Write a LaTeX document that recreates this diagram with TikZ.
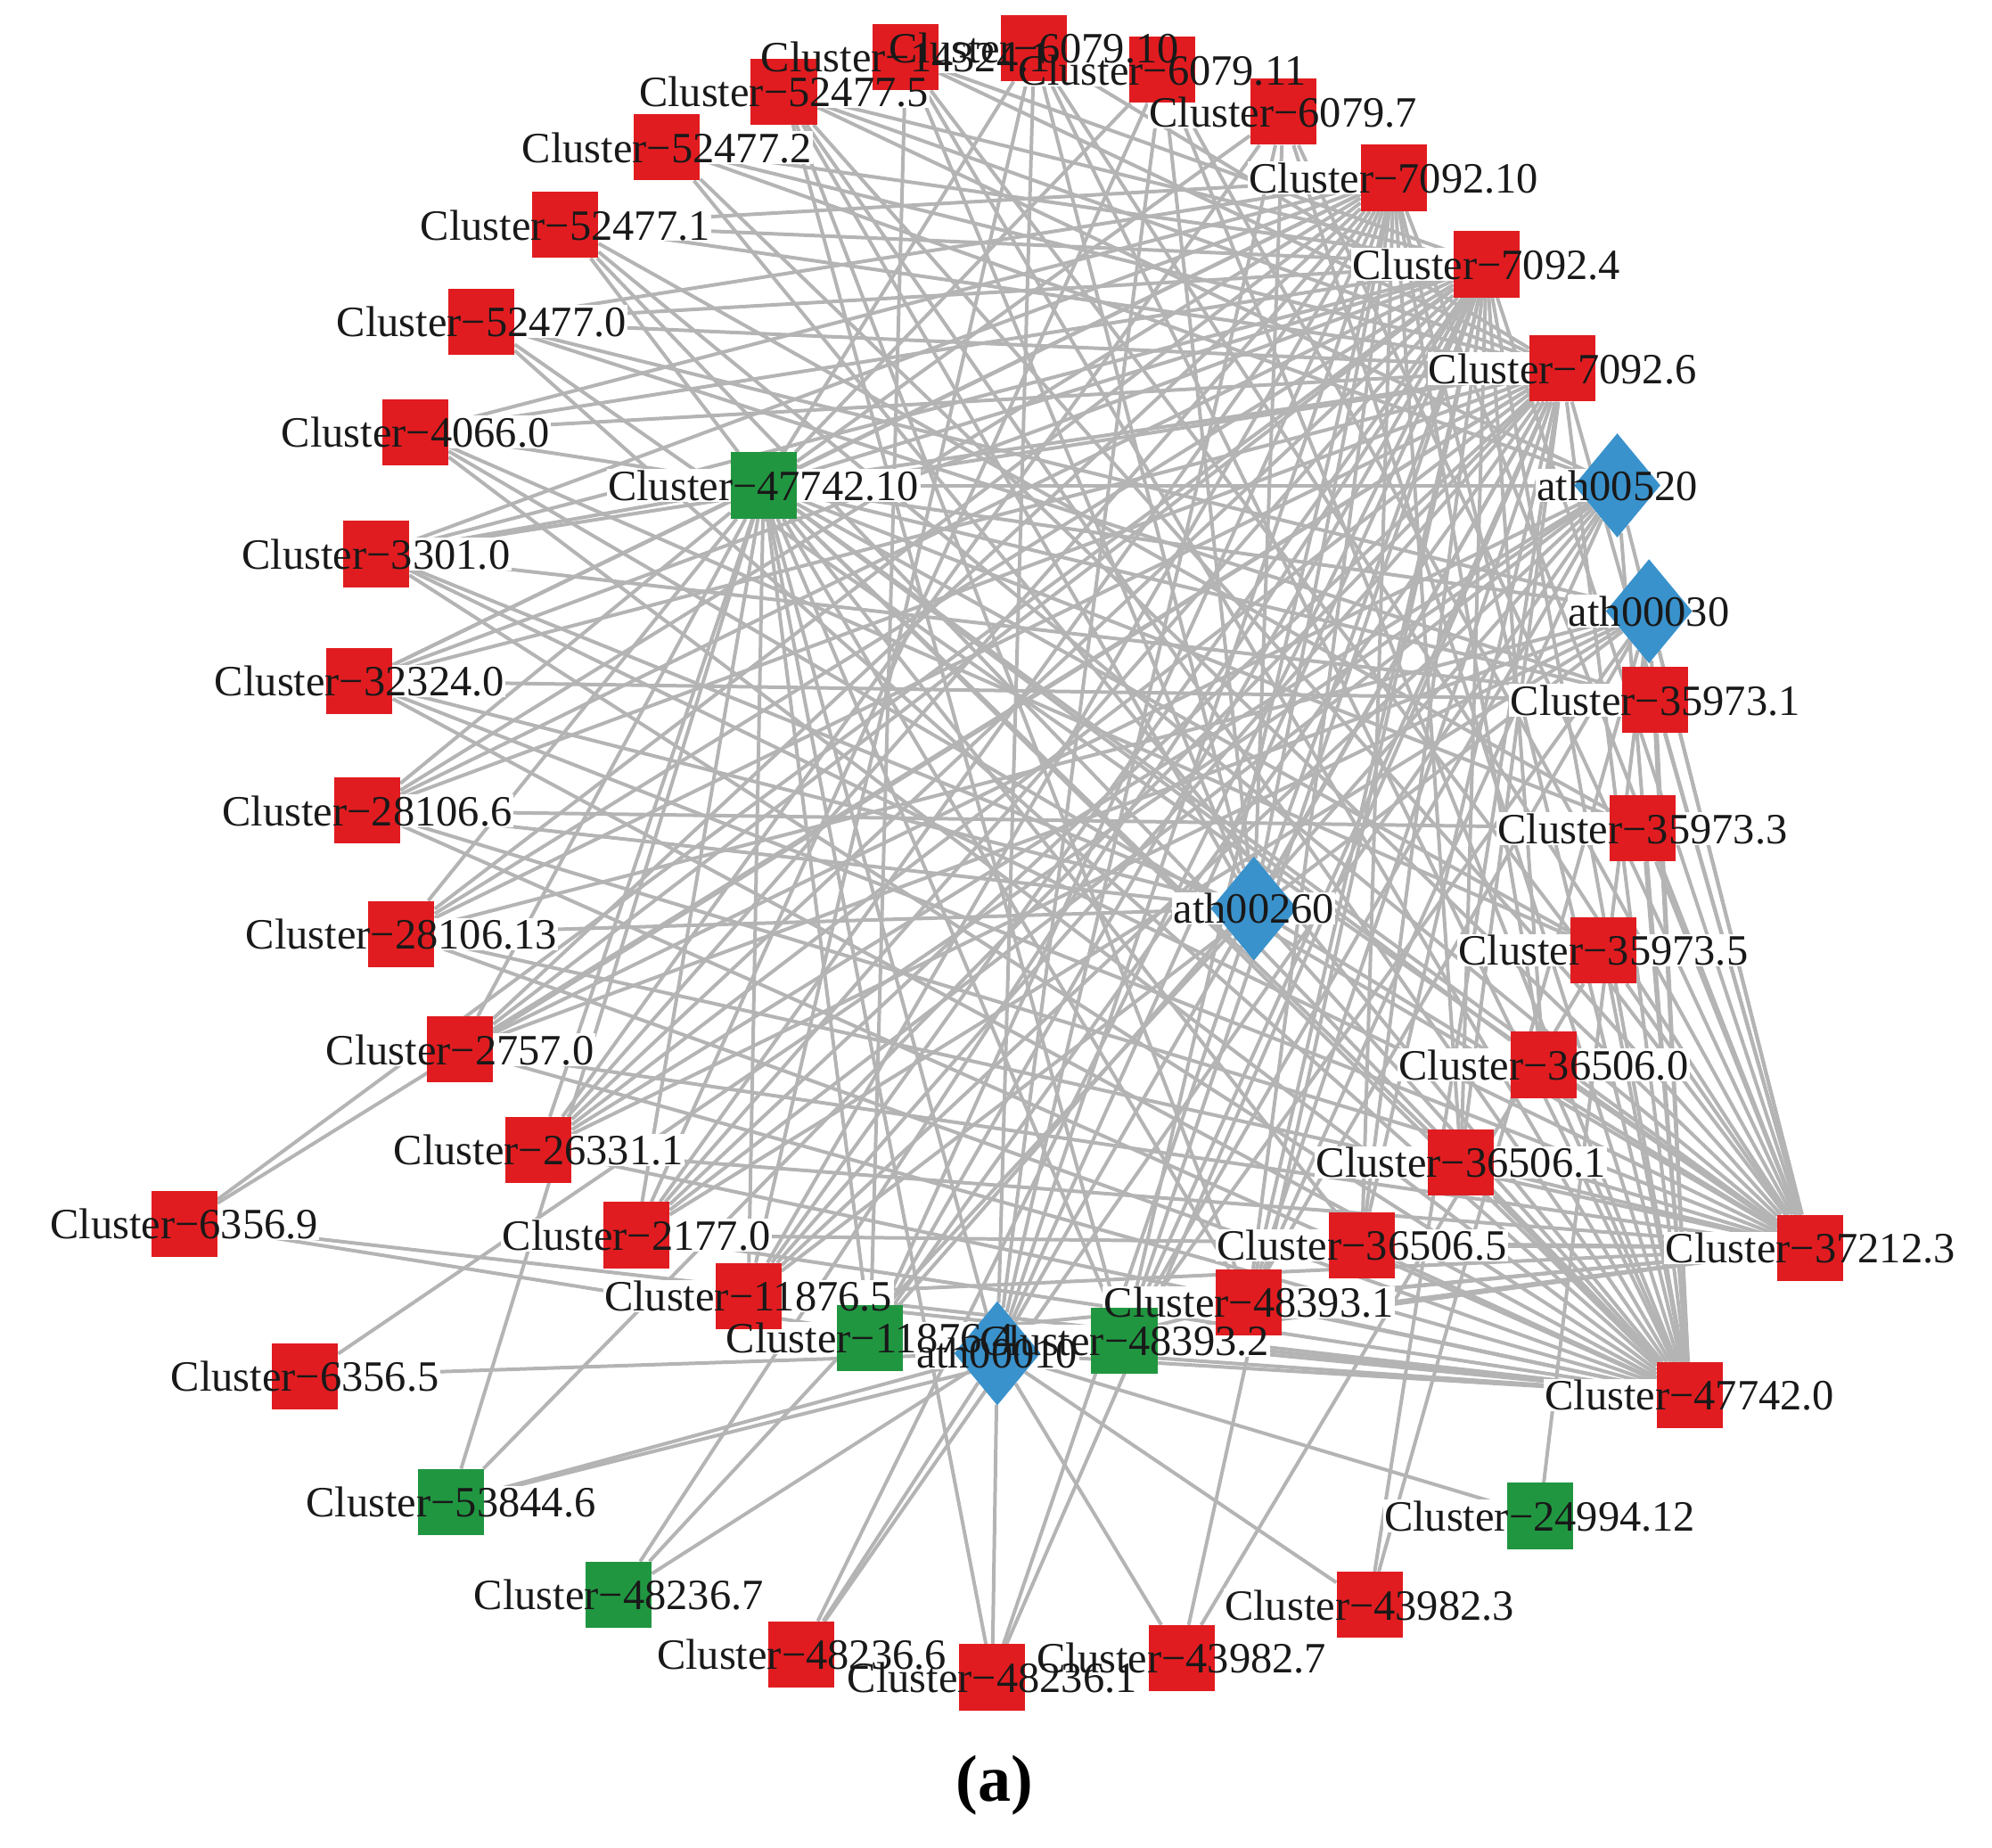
\documentclass[tikz,border=0pt]{standalone}
\usepackage{fontspec}
\setmainfont{Liberation Serif}
\usetikzlibrary{shapes.geometric}
\definecolor{nred}{RGB}{225,28,32}
\definecolor{ngreen}{RGB}{33,150,65}
\definecolor{nblue}{RGB}{58,146,204}
\definecolor{egray}{RGB}{180,180,180}
\definecolor{ltext}{RGB}{25,25,25}
\pgfdeclarelayer{edgelayer}
\pgfdeclarelayer{labbg}
\pgfdeclarelayer{labtxt}
\pgfsetlayers{edgelayer,labbg,main,labtxt}
\tikzset{
  gene/.style={rectangle, fill=nred, minimum size=52pt, inner sep=0pt},
  metab/.style={rectangle, fill=ngreen, minimum size=52pt, inner sep=0pt},
  kegg/.style={diamond, fill=nblue, minimum width=68pt, minimum height=82pt, inner sep=0pt},
  link/.style={draw=egray, line width=2.8pt},
  lbbox/.style={fill=white, inner sep=1pt, font=\fontsize{34}{38}\selectfont, text height=23.5pt, text depth=0pt},
  lbtext/.style={inner sep=1pt, text=ltext, font=\fontsize{34}{38}\selectfont, text height=23.5pt, text depth=0pt},
}
\newcommand{\lbl}[2]{%
  \begin{pgfonlayer}{labbg}\node[lbbox] (#1b) at (#1) {\phantom{#2}};\end{pgfonlayer}%
  \begin{pgfonlayer}{labtxt}\node[lbtext] (#1t) at (#1) {#2};\end{pgfonlayer}}
\begin{document}
\begin{tikzpicture}[x=1pt,y=-1pt]
\useasboundingbox (0,0) rectangle (1568,1454);
% nodes
\node[gene] (a1) at (617,72) {};
\node[gene] (a2) at (713,45) {};
\node[gene] (a3) at (814,38) {};
\node[gene] (a4) at (915,55) {};
\node[gene] (a5) at (1010,88) {};
\node[gene] (a6) at (1097,140) {};
\node[gene] (a7) at (1170,208) {};
\node[gene] (a8) at (1230,290) {};
\node[kegg] (p520) at (1273,382) {};
\node[kegg] (p030) at (1298,481) {};
\node[gene] (b1) at (1303,551) {};
\node[gene] (b2) at (1293,652) {};
\node[gene] (b3) at (1262,748) {};
\node[gene] (b4) at (1215,838) {};
\node[gene] (b5) at (1150,915) {};
\node[gene] (b6) at (1072,980) {};
\node[gene] (b7) at (1425,982) {};
\node[gene] (b8) at (983,1025) {};
\node[metab] (g2) at (885,1055) {};
\node[kegg] (p010) at (785,1065) {};
\node[metab] (g1) at (685,1053) {};
\node[gene] (c1) at (589,1020) {};
\node[gene] (c0) at (1330,1098) {};
\node[metab] (g3) at (1212,1193) {};
\node[gene] (d1) at (1078,1263) {};
\node[gene] (d2) at (930,1305) {};
\node[gene] (d3) at (781,1320) {};
\node[gene] (d4) at (631,1302) {};
\node[metab] (g4) at (487,1255) {};
\node[metab] (g5) at (355,1182) {};
\node[gene] (e1) at (240,1083) {};
\node[gene] (e2) at (145,963) {};
\node[gene] (e3) at (501,972) {};
\node[gene] (e4) at (424,905) {};
\node[gene] (e5) at (362,826) {};
\node[gene] (e6) at (316,735) {};
\node[gene] (e7) at (289,638) {};
\node[gene] (e8) at (283,536) {};
\node[gene] (e9) at (296,436) {};
\node[gene] (e10) at (327,340) {};
\node[gene] (e11) at (379,253) {};
\node[gene] (e12) at (445,177) {};
\node[gene] (e13) at (525,116) {};
\node[metab] (g0) at (601,382) {};
\node[kegg] (p260) at (987,715) {};
% edges
\begin{pgfonlayer}{edgelayer}
\foreach \n in {a1,a2,a3,a4,a5,a6,a7,a8,p520,p030,b1,b2,b3,b4,b5,b6,b8,g2,p010,g1,c1,e3,e4,e5,e6,e7,e8,e9,e10,e11,e12,e13,g0,p260}
  \draw[link] (b7) -- (\n);
\foreach \n in {a1,a2,a3,a4,a5,a6,a7,a8,p520,p030,b1,b2,b3,b4,b5,b6,b8,g2,p010,g1,c1,e2,e3,e4,e5,e6,e7,e8,e9,e10,e11,e12,e13,g0,p260}
  \draw[link] (c0) -- (\n);
\foreach \n in {e2,e3,e4,e5,e6,e7,e8,e9,e10,e11,e12,e13,g0,c1,g1,g2,p010,b8,b6,b5,b4,p260,a1,a2,d2,d4,g4}
  \draw[link] (a7) -- (\n);
\foreach \n in {e2,e3,e4,e5,e6,e7,e8,e9,e10,e11,e12,e13,g0,c1,g1,g2,p010,b8,b6,b5,p260,a1,a2,a3,g5,d3,d1}
  \draw[link] (a8) -- (\n);
\foreach \n in {e3,e4,e5,e6,e7,e8,e9,e10,e11,e12,g0,c1,g1,g2,p010,b8,b6,p260,b4,b5}
  \draw[link] (a6) -- (\n);
\foreach \n in {a3,a4,a5,p520,p030,b1,b2,b3,b4,b5,b6,b8,g2,p010,g1,c1,e3,e4,e5,e6,e7,e8,e9,e10,d3,g5,e12}
  \draw[link] (g0) -- (\n);
\foreach \n in {e1,d4,b8,g2,g1,c1,e3,e4,e5,e13,a1}
  \draw[link] (p520) -- (\n);
\foreach \n in {d1,g3,b8,g2,c1,e3,e4,e5,e6,e11}
  \draw[link] (p030) -- (\n);
\foreach \n in {a1,a2,a3,a4,a5,g4,d3,e6,e7,e8,e9}
  \draw[link] (p260) -- (\n);
\foreach \n in {e1,e2,g5,g4,d4,d3,d2,d1,g3,a3,a4,a5}
  \draw[link] (p010) -- (\n);
\draw[link] (a1) -- (b8);
\draw[link] (a1) -- (g2);
\draw[link] (a2) -- (g1);
\draw[link] (a3) -- (c1);
\draw[link] (a4) -- (e3);
\draw[link] (a5) -- (e4);
\draw[link] (b1) -- (e8);
\draw[link] (b1) -- (e9);
\draw[link] (b1) -- (e11);
\draw[link] (b2) -- (e7);
\draw[link] (b2) -- (e12);
\draw[link] (b3) -- (e10);
\draw[link] (b3) -- (d2);
\draw[link] (g5) -- (b8);
\end{pgfonlayer}
% labels
\lbl{a1}{Cluster−52477.5}
\lbl{a2}{Cluster−14324.1}
\lbl{a3}{Cluster−6079.10}
\lbl{a4}{Cluster−6079.11}
\lbl{a5}{Cluster−6079.7}
\lbl{a6}{Cluster−7092.10}
\lbl{a7}{Cluster−7092.4}
\lbl{a8}{Cluster−7092.6}
\lbl{p520}{ath00520}
\lbl{p030}{ath00030}
\lbl{b1}{Cluster−35973.1}
\lbl{b2}{Cluster−35973.3}
\lbl{b3}{Cluster−35973.5}
\lbl{b4}{Cluster−36506.0}
\lbl{b5}{Cluster−36506.1}
\lbl{b6}{Cluster−36506.5}
\lbl{b7}{Cluster−37212.3}
\lbl{b8}{Cluster−48393.1}
\lbl{g2}{Cluster−48393.2}
\lbl{p010}{ath00010}
\lbl{g1}{Cluster−11876.4}
\lbl{c1}{Cluster−11876.5}
\lbl{c0}{Cluster−47742.0}
\lbl{g3}{Cluster−24994.12}
\lbl{d1}{Cluster−43982.3}
\lbl{d2}{Cluster−43982.7}
\lbl{d3}{Cluster−48236.1}
\lbl{d4}{Cluster−48236.6}
\lbl{g4}{Cluster−48236.7}
\lbl{g5}{Cluster−53844.6}
\lbl{e1}{Cluster−6356.5}
\lbl{e2}{Cluster−6356.9}
\lbl{e3}{Cluster−2177.0}
\lbl{e4}{Cluster−26331.1}
\lbl{e5}{Cluster−2757.0}
\lbl{e6}{Cluster−28106.13}
\lbl{e7}{Cluster−28106.6}
\lbl{e8}{Cluster−32324.0}
\lbl{e9}{Cluster−3301.0}
\lbl{e10}{Cluster−4066.0}
\lbl{e11}{Cluster−52477.0}
\lbl{e12}{Cluster−52477.1}
\lbl{e13}{Cluster−52477.2}
\lbl{g0}{Cluster−47742.10}
\lbl{p260}{ath00260}
\node[font=\fontsize{52}{56}\selectfont\bfseries, text=black] (cap) at (783,1405) {(a)};
\end{tikzpicture}
\end{document}
